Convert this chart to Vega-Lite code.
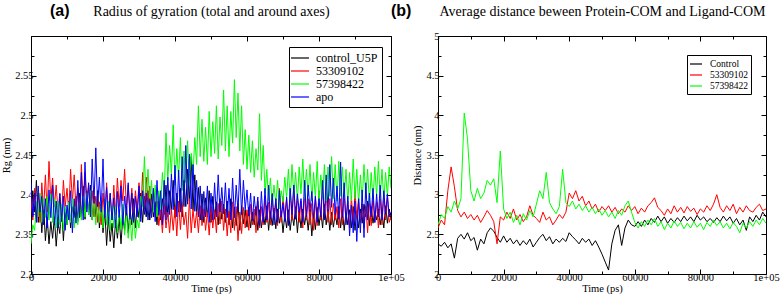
{
"$schema": "https://vega.github.io/schema/vega-lite/v6.json",
"background": "white",
"padding": {"left": 1, "top": 2, "right": 0, "bottom": 0},
"bounds": "flush",
"spacing": 47,
"config": {
 "view": {"stroke": "#000000", "strokeWidth": 1},
 "font": "Times New Roman, Liberation Serif, DejaVu Serif, serif",
 "axis": {"domain": false, "grid": false, "labelFont": "Times New Roman, Liberation Serif, DejaVu Serif, serif", "labelFontSize": 10.5, "labelColor": "#000000", "tickColor": "#000000", "tickWidth": 1, "titleFont": "Times New Roman, Liberation Serif, DejaVu Serif, serif", "titleFontSize": 10.5, "titleFontWeight": "normal", "titleColor": "#000000", "labelFlush": false, "labelOverlap": false},
 "legend": {"labelFont": "Times New Roman, Liberation Serif, DejaVu Serif, serif", "labelColor": "#000000", "strokeColor": "#000000", "fillColor": "#ffffff", "symbolStrokeWidth": 1.2, "rowPadding": 0, "cornerRadius": 0}
},
"datasets": {
"rg": [
{"t":0,"k":2.362,"r":2.395,"g":2.338,"b":2.415},{"t":500,"k":2.405,"r":2.368,"g":2.362,"b":2.372},
{"t":1000,"k":2.378,"r":2.408,"g":2.355,"b":2.402},{"t":1500,"k":2.418,"r":2.372,"g":2.392,"b":2.365},
{"t":2000,"k":2.365,"r":2.402,"g":2.372,"b":2.411},{"t":2500,"k":2.395,"r":2.365,"g":2.402,"b":2.378},
{"t":3000,"k":2.352,"r":2.415,"g":2.365,"b":2.398},{"t":3500,"k":2.388,"r":2.381,"g":2.395,"b":2.362},
{"t":4000,"k":2.342,"r":2.425,"g":2.371,"b":2.395},{"t":4500,"k":2.371,"r":2.378,"g":2.398,"b":2.358},
{"t":5000,"k":2.338,"r":2.442,"g":2.368,"b":2.406},{"t":5500,"k":2.366,"r":2.392,"g":2.401,"b":2.371},
{"t":6000,"k":2.345,"r":2.421,"g":2.365,"b":2.412},{"t":6500,"k":2.372,"r":2.385,"g":2.395,"b":2.362},
{"t":7000,"k":2.335,"r":2.412,"g":2.358,"b":2.392},{"t":7500,"k":2.365,"r":2.378,"g":2.392,"b":2.358},
{"t":8000,"k":2.351,"r":2.402,"g":2.362,"b":2.401},{"t":8500,"k":2.384,"r":2.372,"g":2.388,"b":2.366},
{"t":9000,"k":2.342,"r":2.418,"g":2.355,"b":2.398},{"t":9500,"k":2.378,"r":2.385,"g":2.385,"b":2.355},
{"t":10000,"k":2.362,"r":2.408,"g":2.362,"b":2.387},{"t":10500,"k":2.392,"r":2.378,"g":2.391,"b":2.368},
{"t":11000,"k":2.358,"r":2.432,"g":2.365,"b":2.405},{"t":11500,"k":2.385,"r":2.391,"g":2.395,"b":2.352},
{"t":12000,"k":2.371,"r":2.425,"g":2.358,"b":2.395},{"t":12500,"k":2.398,"r":2.382,"g":2.385,"b":2.364},
{"t":13000,"k":2.366,"r":2.408,"g":2.362,"b":2.418},{"t":13500,"k":2.402,"r":2.372,"g":2.389,"b":2.371},
{"t":14000,"k":2.372,"r":2.438,"g":2.368,"b":2.428},{"t":14500,"k":2.411,"r":2.385,"g":2.398,"b":2.368},
{"t":15000,"k":2.369,"r":2.428,"g":2.372,"b":2.441},{"t":15500,"k":2.405,"r":2.391,"g":2.402,"b":2.378},
{"t":16000,"k":2.375,"r":2.412,"g":2.375,"b":2.415},{"t":16500,"k":2.412,"r":2.378,"g":2.405,"b":2.372},
{"t":17000,"k":2.368,"r":2.405,"g":2.368,"b":2.445},{"t":17500,"k":2.398,"r":2.372,"g":2.395,"b":2.389},
{"t":18000,"k":2.372,"r":2.398,"g":2.362,"b":2.459},{"t":18500,"k":2.405,"r":2.365,"g":2.391,"b":2.385},
{"t":19000,"k":2.358,"r":2.391,"g":2.365,"b":2.422},{"t":19500,"k":2.388,"r":2.362,"g":2.388,"b":2.378},
{"t":20000,"k":2.352,"r":2.402,"g":2.358,"b":2.445},{"t":20500,"k":2.381,"r":2.371,"g":2.395,"b":2.371},
{"t":21000,"k":2.336,"r":2.415,"g":2.362,"b":2.409},{"t":21500,"k":2.372,"r":2.378,"g":2.392,"b":2.364},
{"t":22000,"k":2.341,"r":2.401,"g":2.355,"b":2.402},{"t":22500,"k":2.364,"r":2.368,"g":2.386,"b":2.368},
{"t":23000,"k":2.333,"r":2.412,"g":2.358,"b":2.396},{"t":23500,"k":2.368,"r":2.375,"g":2.385,"b":2.358},
{"t":24000,"k":2.345,"r":2.421,"g":2.352,"b":2.404},{"t":24500,"k":2.371,"r":2.385,"g":2.381,"b":2.371},
{"t":25000,"k":2.338,"r":2.418,"g":2.356,"b":2.411},{"t":25500,"k":2.372,"r":2.392,"g":2.388,"b":2.362},
{"t":26000,"k":2.355,"r":2.432,"g":2.349,"b":2.398},{"t":26500,"k":2.388,"r":2.385,"g":2.378,"b":2.374},
{"t":27000,"k":2.352,"r":2.412,"g":2.345,"b":2.415},{"t":27500,"k":2.381,"r":2.378,"g":2.372,"b":2.369},
{"t":28000,"k":2.362,"r":2.408,"g":2.342,"b":2.402},{"t":28500,"k":2.395,"r":2.372,"g":2.375,"b":2.365},
{"t":29000,"k":2.358,"r":2.405,"g":2.345,"b":2.398},{"t":29500,"k":2.388,"r":2.381,"g":2.368,"b":2.372},
{"t":30000,"k":2.371,"r":2.415,"g":2.358,"b":2.411},{"t":30500,"k":2.402,"r":2.375,"g":2.398,"b":2.366},
{"t":31000,"k":2.365,"r":2.428,"g":2.385,"b":2.405},{"t":31500,"k":2.398,"r":2.382,"g":2.448,"b":2.375},
{"t":32000,"k":2.372,"r":2.422,"g":2.392,"b":2.402},{"t":32500,"k":2.405,"r":2.391,"g":2.432,"b":2.368},
{"t":33000,"k":2.368,"r":2.411,"g":2.385,"b":2.395},{"t":33500,"k":2.401,"r":2.378,"g":2.418,"b":2.371},
{"t":34000,"k":2.372,"r":2.402,"g":2.378,"b":2.408},{"t":34500,"k":2.391,"r":2.372,"g":2.412,"b":2.366},
{"t":35000,"k":2.362,"r":2.392,"g":2.372,"b":2.418},{"t":35500,"k":2.398,"r":2.361,"g":2.405,"b":2.374},
{"t":36000,"k":2.368,"r":2.381,"g":2.382,"b":2.405},{"t":36500,"k":2.395,"r":2.352,"g":2.428,"b":2.362},
{"t":37000,"k":2.375,"r":2.386,"g":2.395,"b":2.418},{"t":37500,"k":2.412,"r":2.358,"g":2.478,"b":2.368},
{"t":38000,"k":2.372,"r":2.378,"g":2.418,"b":2.422},{"t":38500,"k":2.405,"r":2.352,"g":2.462,"b":2.375},
{"t":39000,"k":2.381,"r":2.382,"g":2.425,"b":2.426},{"t":39500,"k":2.418,"r":2.355,"g":2.488,"b":2.381},
{"t":40000,"k":2.371,"r":2.385,"g":2.412,"b":2.437},{"t":40500,"k":2.402,"r":2.348,"g":2.458,"b":2.372},
{"t":41000,"k":2.378,"r":2.392,"g":2.421,"b":2.431},{"t":41500,"k":2.408,"r":2.356,"g":2.472,"b":2.378},
{"t":42000,"k":2.372,"r":2.388,"g":2.405,"b":2.448},{"t":42500,"k":2.418,"r":2.362,"g":2.455,"b":2.385},
{"t":43000,"k":2.385,"r":2.378,"g":2.415,"b":2.462},{"t":43500,"k":2.432,"r":2.345,"g":2.468,"b":2.388},
{"t":44000,"k":2.392,"r":2.395,"g":2.412,"b":2.451},{"t":44500,"k":2.448,"r":2.352,"g":2.452,"b":2.382},
{"t":45000,"k":2.381,"r":2.382,"g":2.425,"b":2.438},{"t":45500,"k":2.425,"r":2.358,"g":2.472,"b":2.379},
{"t":46000,"k":2.375,"r":2.379,"g":2.438,"b":2.418},{"t":46500,"k":2.409,"r":2.352,"g":2.512,"b":2.372},
{"t":47000,"k":2.368,"r":2.386,"g":2.448,"b":2.411},{"t":47500,"k":2.401,"r":2.361,"g":2.495,"b":2.368},
{"t":48000,"k":2.365,"r":2.382,"g":2.442,"b":2.404},{"t":48500,"k":2.396,"r":2.355,"g":2.485,"b":2.372},
{"t":49000,"k":2.372,"r":2.378,"g":2.438,"b":2.411},{"t":49500,"k":2.405,"r":2.349,"g":2.505,"b":2.365},
{"t":50000,"k":2.365,"r":2.385,"g":2.448,"b":2.402},{"t":50500,"k":2.398,"r":2.358,"g":2.492,"b":2.368},
{"t":51000,"k":2.369,"r":2.381,"g":2.452,"b":2.415},{"t":51500,"k":2.391,"r":2.352,"g":2.512,"b":2.372},
{"t":52000,"k":2.362,"r":2.389,"g":2.445,"b":2.425},{"t":52500,"k":2.395,"r":2.363,"g":2.498,"b":2.378},
{"t":53000,"k":2.369,"r":2.392,"g":2.462,"b":2.409},{"t":53500,"k":2.388,"r":2.355,"g":2.532,"b":2.376},
{"t":54000,"k":2.365,"r":2.382,"g":2.455,"b":2.415},{"t":54500,"k":2.392,"r":2.348,"g":2.512,"b":2.371},
{"t":55000,"k":2.362,"r":2.379,"g":2.448,"b":2.408},{"t":55500,"k":2.395,"r":2.352,"g":2.505,"b":2.368},
{"t":56000,"k":2.358,"r":2.391,"g":2.465,"b":2.421},{"t":56500,"k":2.384,"r":2.355,"g":2.545,"b":2.371},
{"t":57000,"k":2.361,"r":2.385,"g":2.472,"b":2.412},{"t":57500,"k":2.389,"r":2.342,"g":2.528,"b":2.379},
{"t":58000,"k":2.355,"r":2.378,"g":2.455,"b":2.432},{"t":58500,"k":2.386,"r":2.351,"g":2.512,"b":2.375},
{"t":59000,"k":2.363,"r":2.384,"g":2.438,"b":2.418},{"t":59500,"k":2.381,"r":2.358,"g":2.482,"b":2.381},
{"t":60000,"k":2.359,"r":2.381,"g":2.432,"b":2.406},{"t":60500,"k":2.384,"r":2.355,"g":2.475,"b":2.373},
{"t":61000,"k":2.358,"r":2.388,"g":2.428,"b":2.402},{"t":61500,"k":2.378,"r":2.362,"g":2.468,"b":2.367},
{"t":62000,"k":2.362,"r":2.382,"g":2.422,"b":2.398},{"t":62500,"k":2.385,"r":2.352,"g":2.458,"b":2.374},
{"t":63000,"k":2.355,"r":2.392,"g":2.431,"b":2.397},{"t":63500,"k":2.381,"r":2.358,"g":2.502,"b":2.361},
{"t":64000,"k":2.358,"r":2.385,"g":2.418,"b":2.404},{"t":64500,"k":2.377,"r":2.362,"g":2.462,"b":2.365},
{"t":65000,"k":2.362,"r":2.398,"g":2.402,"b":2.408},{"t":65500,"k":2.386,"r":2.365,"g":2.432,"b":2.368},
{"t":66000,"k":2.355,"r":2.391,"g":2.392,"b":2.412},{"t":66500,"k":2.379,"r":2.362,"g":2.421,"b":2.369},
{"t":67000,"k":2.361,"r":2.402,"g":2.385,"b":2.401},{"t":67500,"k":2.383,"r":2.368,"g":2.412,"b":2.362},
{"t":68000,"k":2.357,"r":2.395,"g":2.388,"b":2.395},{"t":68500,"k":2.382,"r":2.361,"g":2.418,"b":2.365},
{"t":69000,"k":2.364,"r":2.408,"g":2.382,"b":2.405},{"t":69500,"k":2.379,"r":2.365,"g":2.405,"b":2.372},
{"t":70000,"k":2.352,"r":2.398,"g":2.391,"b":2.389},{"t":70500,"k":2.375,"r":2.372,"g":2.422,"b":2.366},
{"t":71000,"k":2.358,"r":2.395,"g":2.395,"b":2.397},{"t":71500,"k":2.381,"r":2.362,"g":2.432,"b":2.361},
{"t":72000,"k":2.355,"r":2.405,"g":2.392,"b":2.408},{"t":72500,"k":2.376,"r":2.368,"g":2.438,"b":2.375},
{"t":73000,"k":2.361,"r":2.412,"g":2.398,"b":2.412},{"t":73500,"k":2.385,"r":2.371,"g":2.428,"b":2.369},
{"t":74000,"k":2.352,"r":2.398,"g":2.392,"b":2.401},{"t":74500,"k":2.379,"r":2.365,"g":2.435,"b":2.378},
{"t":75000,"k":2.358,"r":2.392,"g":2.401,"b":2.395},{"t":75500,"k":2.382,"r":2.358,"g":2.445,"b":2.365},
{"t":76000,"k":2.362,"r":2.401,"g":2.395,"b":2.418},{"t":76500,"k":2.377,"r":2.368,"g":2.432,"b":2.372},
{"t":77000,"k":2.355,"r":2.395,"g":2.398,"b":2.412},{"t":77500,"k":2.381,"r":2.362,"g":2.438,"b":2.379},
{"t":78000,"k":2.348,"r":2.389,"g":2.392,"b":2.404},{"t":78500,"k":2.375,"r":2.355,"g":2.428,"b":2.371},
{"t":79000,"k":2.356,"r":2.398,"g":2.395,"b":2.398},{"t":79500,"k":2.384,"r":2.361,"g":2.442,"b":2.365},
{"t":80000,"k":2.361,"r":2.405,"g":2.388,"b":2.395},{"t":80500,"k":2.379,"r":2.368,"g":2.425,"b":2.372},
{"t":81000,"k":2.358,"r":2.412,"g":2.395,"b":2.418},{"t":81500,"k":2.388,"r":2.372,"g":2.438,"b":2.368},
{"t":82000,"k":2.362,"r":2.402,"g":2.392,"b":2.425},{"t":82500,"k":2.381,"r":2.365,"g":2.435,"b":2.379},
{"t":83000,"k":2.355,"r":2.395,"g":2.398,"b":2.438},{"t":83500,"k":2.378,"r":2.362,"g":2.448,"b":2.384},
{"t":84000,"k":2.359,"r":2.389,"g":2.395,"b":2.421},{"t":84500,"k":2.376,"r":2.368,"g":2.438,"b":2.375},
{"t":85000,"k":2.362,"r":2.385,"g":2.392,"b":2.411},{"t":85500,"k":2.385,"r":2.358,"g":2.442,"b":2.369},
{"t":86000,"k":2.358,"r":2.395,"g":2.398,"b":2.441},{"t":86500,"k":2.381,"r":2.362,"g":2.435,"b":2.371},
{"t":87000,"k":2.355,"r":2.401,"g":2.395,"b":2.415},{"t":87500,"k":2.378,"r":2.365,"g":2.432,"b":2.362},
{"t":88000,"k":2.362,"r":2.392,"g":2.389,"b":2.398},{"t":88500,"k":2.381,"r":2.358,"g":2.428,"b":2.348},
{"t":89000,"k":2.358,"r":2.398,"g":2.392,"b":2.387},{"t":89500,"k":2.385,"r":2.362,"g":2.445,"b":2.352},
{"t":90000,"k":2.355,"r":2.405,"g":2.395,"b":2.392},{"t":90500,"k":2.379,"r":2.371,"g":2.432,"b":2.341},
{"t":91000,"k":2.358,"r":2.395,"g":2.388,"b":2.395},{"t":91500,"k":2.382,"r":2.365,"g":2.425,"b":2.352},
{"t":92000,"k":2.364,"r":2.388,"g":2.392,"b":2.406},{"t":92500,"k":2.388,"r":2.358,"g":2.438,"b":2.346},
{"t":93000,"k":2.372,"r":2.386,"g":2.395,"b":2.415},{"t":93500,"k":2.392,"r":2.352,"g":2.432,"b":2.368},
{"t":94000,"k":2.361,"r":2.392,"g":2.389,"b":2.402},{"t":94500,"k":2.385,"r":2.361,"g":2.428,"b":2.372},
{"t":95000,"k":2.364,"r":2.398,"g":2.392,"b":2.408},{"t":95500,"k":2.379,"r":2.365,"g":2.435,"b":2.365},
{"t":96000,"k":2.368,"r":2.391,"g":2.398,"b":2.401},{"t":96500,"k":2.382,"r":2.358,"g":2.442,"b":2.372},
{"t":97000,"k":2.362,"r":2.395,"g":2.395,"b":2.412},{"t":97500,"k":2.378,"r":2.362,"g":2.432,"b":2.368},
{"t":98000,"k":2.358,"r":2.402,"g":2.392,"b":2.405},{"t":98500,"k":2.386,"r":2.368,"g":2.428,"b":2.375},
{"t":99000,"k":2.364,"r":2.398,"g":2.398,"b":2.401},{"t":99500,"k":2.382,"r":2.365,"g":2.435,"b":2.372},
{"t":100000,"k":2.368,"r":2.372,"g":2.408,"b":2.378}
],
"dist": [
{"t":0,"c":2.38,"r":2.58,"g":2.62},{"t":1000,"c":2.35,"r":2.68,"g":2.75},{"t":2000,"c":2.40,"r":2.62,"g":2.70},{"t":3000,"c":2.33,"r":3.05,"g":2.85},
{"t":4000,"c":2.38,"r":3.35,"g":2.78},{"t":5000,"c":2.20,"r":3.10,"g":2.92},{"t":6000,"c":2.45,"r":2.80,"g":2.82},{"t":7000,"c":2.50,"r":2.72,"g":2.95},
{"t":8000,"c":2.44,"r":2.78,"g":4.03},{"t":9000,"c":2.52,"r":2.70,"g":3.70},{"t":10000,"c":2.42,"r":2.75,"g":3.05},{"t":11000,"c":2.46,"r":2.68,"g":2.92},
{"t":12000,"c":2.30,"r":2.74,"g":3.08},{"t":13000,"c":2.44,"r":2.65,"g":2.95},{"t":14000,"c":2.38,"r":2.72,"g":3.02},{"t":15000,"c":2.52,"r":2.80,"g":3.18},
{"t":16000,"c":2.58,"r":2.74,"g":3.12},{"t":17000,"c":2.54,"r":2.66,"g":3.20},{"t":18000,"c":2.46,"r":2.38,"g":2.90},{"t":19000,"c":2.40,"r":2.72,"g":3.55},
{"t":20000,"c":2.48,"r":2.68,"g":2.82},{"t":21000,"c":2.40,"r":2.78,"g":2.70},{"t":22000,"c":2.45,"r":2.70,"g":2.78},{"t":23000,"c":2.38,"r":2.82,"g":2.65},
{"t":24000,"c":2.43,"r":2.68,"g":2.74},{"t":25000,"c":2.36,"r":2.75,"g":2.62},{"t":26000,"c":2.42,"r":2.66,"g":2.76},{"t":27000,"c":2.37,"r":2.72,"g":2.68},
{"t":28000,"c":2.44,"r":2.86,"g":2.80},{"t":29000,"c":2.34,"r":2.74,"g":2.72},{"t":30000,"c":2.40,"r":2.70,"g":2.88},{"t":31000,"c":2.46,"r":2.65,"g":3.05},
{"t":32000,"c":2.50,"r":2.78,"g":2.95},{"t":33000,"c":2.42,"r":2.68,"g":3.28},{"t":34000,"c":2.47,"r":2.72,"g":2.90},{"t":35000,"c":2.38,"r":2.62,"g":2.82},
{"t":36000,"c":2.44,"r":2.68,"g":2.76},{"t":37000,"c":2.40,"r":2.75,"g":2.85},{"t":38000,"c":2.45,"r":2.70,"g":3.32},{"t":39000,"c":2.41,"r":2.78,"g":2.90},
{"t":40000,"c":2.52,"r":3.02,"g":2.85},{"t":41000,"c":2.47,"r":2.95,"g":2.92},{"t":42000,"c":2.43,"r":3.05,"g":2.82},{"t":43000,"c":2.38,"r":2.92,"g":2.88},
{"t":44000,"c":2.45,"r":2.98,"g":2.80},{"t":45000,"c":2.40,"r":2.86,"g":2.86},{"t":46000,"c":2.44,"r":2.92,"g":2.78},{"t":47000,"c":2.36,"r":2.82,"g":2.84},
{"t":48000,"c":2.42,"r":2.88,"g":2.76},{"t":49000,"c":2.34,"r":2.78,"g":2.82},{"t":50000,"c":2.25,"r":2.85,"g":2.74},{"t":51000,"c":2.15,"r":2.80,"g":2.80},
{"t":52000,"c":2.05,"r":2.86,"g":2.72},{"t":53000,"c":2.38,"r":2.78,"g":2.78},{"t":54000,"c":2.55,"r":2.84,"g":2.70},{"t":55000,"c":2.62,"r":2.76,"g":2.80},
{"t":56000,"c":2.36,"r":2.82,"g":2.74},{"t":57000,"c":2.58,"r":2.78,"g":2.86},{"t":58000,"c":2.68,"r":2.86,"g":2.92},{"t":59000,"c":2.62,"r":2.80,"g":2.78},
{"t":60000,"c":2.60,"r":2.85,"g":2.65},{"t":61000,"c":2.66,"r":2.76,"g":2.58},{"t":62000,"c":2.60,"r":2.83,"g":2.66},{"t":63000,"c":2.68,"r":2.78,"g":2.60},
{"t":64000,"c":2.62,"r":2.86,"g":2.68},{"t":65000,"c":2.70,"r":2.90,"g":2.62},{"t":66000,"c":2.65,"r":2.96,"g":2.70},{"t":67000,"c":2.73,"r":2.84,"g":2.60},
{"t":68000,"c":2.66,"r":2.80,"g":2.66},{"t":69000,"c":2.72,"r":2.74,"g":2.56},{"t":70000,"c":2.64,"r":2.82,"g":2.64},{"t":71000,"c":2.70,"r":2.76,"g":2.58},
{"t":72000,"c":2.65,"r":2.86,"g":2.67},{"t":73000,"c":2.71,"r":2.78,"g":2.60},{"t":74000,"c":2.66,"r":2.84,"g":2.65},{"t":75000,"c":2.73,"r":2.77,"g":2.57},
{"t":76000,"c":2.67,"r":2.85,"g":2.64},{"t":77000,"c":2.72,"r":2.79,"g":2.58},{"t":78000,"c":2.66,"r":2.83,"g":2.66},{"t":79000,"c":2.74,"r":2.75,"g":2.59},
{"t":80000,"c":2.68,"r":2.82,"g":2.64},{"t":81000,"c":2.72,"r":2.78,"g":2.56},{"t":82000,"c":2.66,"r":2.86,"g":2.65},{"t":83000,"c":2.70,"r":2.80,"g":2.60},
{"t":84000,"c":2.65,"r":2.88,"g":2.68},{"t":85000,"c":2.71,"r":3.00,"g":2.61},{"t":86000,"c":2.66,"r":2.84,"g":2.66},{"t":87000,"c":2.73,"r":2.78,"g":2.58},
{"t":88000,"c":2.67,"r":2.86,"g":2.64},{"t":89000,"c":2.72,"r":2.80,"g":2.57},{"t":90000,"c":2.64,"r":2.88,"g":2.65},{"t":91000,"c":2.70,"r":2.76,"g":2.60},
{"t":92000,"c":2.62,"r":2.84,"g":2.52},{"t":93000,"c":2.68,"r":2.78,"g":2.64},{"t":94000,"c":2.55,"r":2.86,"g":2.58},{"t":95000,"c":2.72,"r":2.80,"g":2.66},
{"t":96000,"c":2.66,"r":2.78,"g":2.60},{"t":97000,"c":2.74,"r":2.84,"g":2.68},{"t":98000,"c":2.68,"r":2.88,"g":2.62},{"t":99000,"c":2.78,"r":2.80,"g":2.70},
{"t":100000,"c":2.72,"r":2.82,"g":2.64}
]
},
"hconcat": [
{
 "width": 360, "height": 238,
 "data": {"name": "rg"},
 "title": {"text": "(a)", "anchor": "start", "frame": "group", "dx": 19, "offset": -14, "font": "Liberation Sans", "fontSize": 16, "fontWeight": "bold", "color": "#000000"},
 "layer": [
  {"mark": {"type": "line", "strokeWidth": 1, "clip": true},
   "encoding": {
    "x": {"field": "t", "type": "quantitative", "scale": {"domain": [0, 100000], "nice": false, "zero": false},
      "axis": {"orient": "bottom", "title": "Time (ps)", "values": [0,10000,20000,30000,40000,50000,60000,70000,80000,90000,100000], "format": "d", "labelExpr": "datum.value % 20000 === 0 ? (datum.value === 100000 ? '1e+05' : datum.label) : ''", "tickSize": {"condition": {"test": "datum.value % 20000 === 0", "value": -5}, "value": -3}, "labelPadding": 3, "titlePadding": -1}},
    "y": {"field": "k", "type": "quantitative", "scale": {"domain": [2.3, 2.6], "nice": false, "zero": false},
      "axis": {"orient": "left", "title": "Rg (nm)", "values": [2.3,2.325,2.35,2.375,2.4,2.425,2.45,2.475,2.5,2.525,2.55,2.575,2.6], "format": ".2~f", "labelExpr": "round(datum.value*1000) % 50 === 0 && datum.value < 2.59 ? datum.label : ''", "tickSize": {"condition": {"test": "round(datum.value*1000) % 50 === 0", "value": -5}, "value": -3}, "labelPadding": 3, "titlePadding": 3}},
    "color": {"datum": "control_U5P", "type": "nominal", "scale": {"domain": ["control_U5P","53309102","57398422","apo"], "range": ["#000000","#ff0000","#00ff00","#0000ff"]},
      "legend": {"orient": "none", "legendX": 258, "legendY": 11, "title": null, "padding": 4, "labelFontSize": 12, "symbolType": "M-1.5,0H1.5", "symbolSize": 144, "labelOffset": 9, "rowPadding": -2}}
   }},
  {"mark": {"type": "line", "strokeWidth": 1, "clip": true},
   "encoding": {
    "x": {"field": "t", "type": "quantitative", "scale": {"domain": [0, 100000], "nice": false, "zero": false},
      "axis": {"orient": "top", "title": "Radius of gyration (total and around axes)", "titleFontSize": 14, "titlePadding": 17, "labels": false, "values": [0,10000,20000,30000,40000,50000,60000,70000,80000,90000,100000], "tickSize": {"condition": {"test": "datum.value % 20000 === 0", "value": -5}, "value": -3}}},
    "y": {"field": "r", "type": "quantitative", "scale": {"domain": [2.3, 2.6], "nice": false, "zero": false},
      "axis": {"orient": "right", "title": null, "labels": false, "values": [2.3,2.325,2.35,2.375,2.4,2.425,2.45,2.475,2.5,2.525,2.55,2.575,2.6], "tickSize": {"condition": {"test": "round(datum.value*1000) % 50 === 0", "value": -5}, "value": -3}}},
    "color": {"datum": "53309102", "type": "nominal"}
   }},
  {"mark": {"type": "line", "strokeWidth": 1, "clip": true},
   "encoding": {
    "x": {"field": "t", "type": "quantitative", "axis": null},
    "y": {"field": "g", "type": "quantitative", "axis": null},
    "color": {"datum": "57398422", "type": "nominal"}
   }},
  {"mark": {"type": "line", "strokeWidth": 1, "clip": true},
   "encoding": {
    "x": {"field": "t", "type": "quantitative", "axis": null},
    "y": {"field": "b", "type": "quantitative", "axis": null},
    "color": {"datum": "apo", "type": "nominal"}
   }}
 ],
 "resolve": {"axis": {"x": "independent", "y": "independent"}}
},
{
 "width": 328, "height": 238,
 "data": {"name": "dist"},
 "title": {"text": "(b)", "anchor": "start", "frame": "group", "dx": -47, "offset": -14, "font": "Liberation Sans", "fontSize": 16, "fontWeight": "bold", "color": "#000000"},
 "layer": [
  {"mark": {"type": "line", "strokeWidth": 1, "clip": true},
   "encoding": {
    "x": {"field": "t", "type": "quantitative", "scale": {"domain": [0, 100000], "nice": false, "zero": false},
      "axis": {"orient": "bottom", "title": "Time (ps)", "values": [0,10000,20000,30000,40000,50000,60000,70000,80000,90000,100000], "format": "d", "labelExpr": "datum.value % 20000 === 0 ? (datum.value === 100000 ? '1e+05' : datum.label) : ''", "tickSize": {"condition": {"test": "datum.value % 20000 === 0", "value": -5}, "value": -3}, "labelPadding": 3, "titlePadding": -1}},
    "y": {"field": "c", "type": "quantitative", "scale": {"domain": [2, 5], "nice": false, "zero": false},
      "axis": {"orient": "left", "title": "Distance (nm)", "values": [2,2.25,2.5,2.75,3,3.25,3.5,3.75,4,4.25,4.5,4.75,5], "format": ".1~f", "labelExpr": "round(datum.value*100) % 50 === 0 ? datum.label : ''", "tickSize": {"condition": {"test": "round(datum.value*100) % 50 === 0", "value": -5}, "value": -3}, "labelPadding": 4, "titlePadding": 3}},
    "color": {"datum": "Control", "type": "nominal", "scale": {"domain": ["Control","53309102","57398422"], "range": ["#000000","#ff0000","#00ff00"]},
      "legend": {"orient": "none", "legendX": 249, "legendY": 19, "title": null, "padding": 3, "labelFontSize": 9.5, "symbolType": "M-1.2,0H1.2", "symbolSize": 100, "labelOffset": 8, "rowPadding": -1}}
   }},
  {"mark": {"type": "line", "strokeWidth": 1, "clip": true},
   "encoding": {
    "x": {"field": "t", "type": "quantitative", "scale": {"domain": [0, 100000], "nice": false, "zero": false},
      "axis": {"orient": "top", "title": "Average distance beween Protein-COM and Ligand-COM", "titleFontSize": 14, "titlePadding": 17, "labels": false, "values": [0,10000,20000,30000,40000,50000,60000,70000,80000,90000,100000], "tickSize": {"condition": {"test": "datum.value % 20000 === 0", "value": -5}, "value": -3}}},
    "y": {"field": "r", "type": "quantitative", "scale": {"domain": [2, 5], "nice": false, "zero": false},
      "axis": {"orient": "right", "title": null, "labels": false, "values": [2,2.25,2.5,2.75,3,3.25,3.5,3.75,4,4.25,4.5,4.75,5], "tickSize": {"condition": {"test": "round(datum.value*100) % 50 === 0", "value": -5}, "value": -3}}},
    "color": {"datum": "53309102", "type": "nominal"}
   }},
  {"mark": {"type": "line", "strokeWidth": 1, "clip": true},
   "encoding": {
    "x": {"field": "t", "type": "quantitative", "axis": null},
    "y": {"field": "g", "type": "quantitative", "axis": null},
    "color": {"datum": "57398422", "type": "nominal"}
   }}
 ],
 "resolve": {"axis": {"x": "independent", "y": "independent"}}
}
],
"resolve": {"scale": {"color": "independent"}, "legend": {"color": "independent"}}
}
